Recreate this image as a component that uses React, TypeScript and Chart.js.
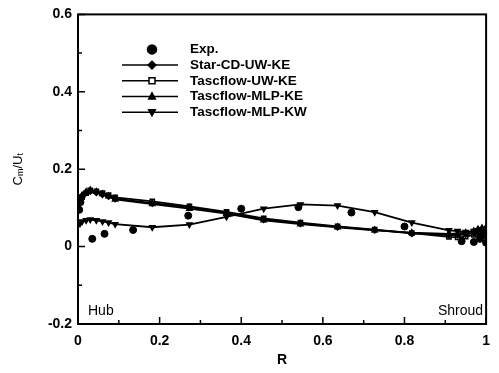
import React, { useEffect, useRef } from 'react';
import { Chart, registerables } from 'chart.js';
Chart.register(...registerables);

const seriesLabels = ['Exp.', 'Star-CD-UW-KE', 'Tascflow-UW-KE', 'Tascflow-MLP-KE', 'Tascflow-MLP-KW'];

const rCfd = [0, 0.005, 0.01, 0.02, 0.03, 0.045, 0.06, 0.075, 0.091, 0.182, 0.273, 0.364, 0.455, 0.545, 0.636, 0.727, 0.818, 0.909, 0.93, 0.95, 0.97, 0.98, 0.99, 1.0];
const starCdUwKe = [0.1, 0.12, 0.13, 0.14, 0.143, 0.14, 0.135, 0.13, 0.124, 0.112, 0.102, 0.087, 0.07, 0.06, 0.051, 0.043, 0.034, 0.03, 0.03, 0.032, 0.035, 0.038, 0.04, 0.035];
const tascUwKe = [0.095, 0.115, 0.128, 0.138, 0.145, 0.143, 0.138, 0.133, 0.127, 0.117, 0.104, 0.09, 0.073, 0.062, 0.052, 0.044, 0.035, 0.025, 0.024, 0.026, 0.03, 0.033, 0.036, 0.03];
const tascMlpKe = [0.11, 0.125, 0.133, 0.142, 0.146, 0.142, 0.136, 0.13, 0.122, 0.11, 0.098, 0.085, 0.068, 0.058, 0.05, 0.042, 0.036, 0.033, 0.034, 0.036, 0.04, 0.045, 0.048, 0.05];
const tascMlpKw = [0.055, 0.06, 0.065, 0.068, 0.07, 0.068, 0.065, 0.062, 0.058, 0.05, 0.057, 0.077, 0.098, 0.109, 0.106, 0.089, 0.062, 0.042, 0.04, 0.038, 0.04, 0.042, 0.045, 0.04];

const expR = [0.003, 0.006, 0.035, 0.065, 0.135, 0.27, 0.4, 0.54, 0.67, 0.8, 0.94, 0.97, 0.985, 0.995, 1.0];
const expC = [0.095, 0.115, 0.02, 0.033, 0.043, 0.08, 0.098, 0.102, 0.088, 0.052, 0.014, 0.012, 0.02, 0.03, 0.01];

const xTicks = [0, 0.2, 0.4, 0.6, 0.8, 1];
const yTicks = [-0.2, 0, 0.2, 0.4, 0.6];
const xMinor = [0.1, 0.3, 0.5, 0.7, 0.9];
const yMinor = [-0.1, 0.1, 0.3, 0.5];

const FONT = 'Arial, "Liberation Sans", Helvetica, sans-serif';

function pts(xs: number[], ys: number[]) {
  return xs.map((x, i) => ({ x, y: ys[i] }));
}

function drawMarker(ctx: CanvasRenderingContext2D, style: string, x: number, y: number, r: number, fill: string, rot: number) {
  ctx.save();
  ctx.translate(x, y);
  ctx.rotate((rot * Math.PI) / 180);
  ctx.beginPath();
  if (style === 'circle') {
    ctx.arc(0, 0, r, 0, Math.PI * 2);
  } else if (style === 'rect') {
    ctx.rect(-r, -r, 2 * r, 2 * r);
  } else if (style === 'rectRot') {
    ctx.moveTo(0, -r * 1.3);
    ctx.lineTo(r * 1.3, 0);
    ctx.lineTo(0, r * 1.3);
    ctx.lineTo(-r * 1.3, 0);
    ctx.closePath();
  } else if (style === 'triangle') {
    ctx.moveTo(0, -r * 1.2);
    ctx.lineTo(r * 1.1, r * 0.8);
    ctx.lineTo(-r * 1.1, r * 0.8);
    ctx.closePath();
  }
  ctx.fillStyle = fill;
  ctx.fill();
  ctx.lineWidth = 1.5;
  ctx.strokeStyle = '#000';
  ctx.stroke();
  ctx.restore();
}

const framePlugin = {
  id: 'framePlugin',
  afterDraw(chart: any) {
    const { ctx, chartArea: a, scales } = chart;
    const xs = scales.x;
    const ys = scales.y;
    ctx.save();
    ctx.strokeStyle = '#000';
    ctx.lineWidth = 2;
    ctx.strokeRect(a.left, a.top, a.right - a.left, a.bottom - a.top);
    ctx.lineWidth = 1.5;
    ctx.beginPath();
    xTicks.forEach((v) => {
      const px = xs.getPixelForValue(v);
      ctx.moveTo(px, a.bottom);
      ctx.lineTo(px, a.bottom - 7);
    });
    xMinor.forEach((v) => {
      const px = xs.getPixelForValue(v);
      ctx.moveTo(px, a.bottom);
      ctx.lineTo(px, a.bottom - 4);
    });
    yTicks.forEach((v) => {
      const py = ys.getPixelForValue(v);
      ctx.moveTo(a.left, py);
      ctx.lineTo(a.left + 7, py);
    });
    yMinor.forEach((v) => {
      const py = ys.getPixelForValue(v);
      ctx.moveTo(a.left, py);
      ctx.lineTo(a.left + 4, py);
    });
    ctx.stroke();

    ctx.fillStyle = '#000';
    ctx.font = 'bold 14px ' + FONT;
    ctx.textAlign = 'center';
    ctx.textBaseline = 'middle';
    ctx.fillText('R', (a.left + a.right) / 2, 360);

    ctx.save();
    ctx.translate(18, (a.top + a.bottom) / 2);
    ctx.rotate(-Math.PI / 2);
    const big = '13px ' + FONT;
    const small = '9px ' + FONT;
    const parts: [string, string, number][] = [['C', big, 0], ['m', small, 3], ['/U', big, 0], ['t', small, 3]];
    let total = 0;
    parts.forEach(([t, f]) => { ctx.font = f; total += ctx.measureText(t).width; });
    let cx = -total / 2;
    ctx.textAlign = 'left';
    parts.forEach(([t, f, dy]) => {
      ctx.font = f;
      ctx.fillText(t, cx, dy);
      cx += ctx.measureText(t).width;
    });
    ctx.restore();

    ctx.font = '14px ' + FONT;
    ctx.textBaseline = 'alphabetic';
    ctx.textAlign = 'left';
    ctx.fillText('Hub', a.left + 10, a.bottom - 9);
    ctx.textAlign = 'right';
    ctx.fillText('Shroud', a.right - 3, a.bottom - 9);

    const ds = chart.data.datasets;
    ds.forEach((d: any, i: number) => {
      const y = a.top + 35 + i * 15.7;
      const lx0 = a.left + 44;
      const lx1 = a.left + 100;
      const mx = a.left + 74;
      if (d.showLine !== false) {
        ctx.beginPath();
        ctx.lineWidth = 1.5;
        ctx.moveTo(lx0, y);
        ctx.lineTo(lx1, y);
        ctx.stroke();
      }
      drawMarker(ctx, d.pointStyle, mx, y, d.showLine === false ? 4.5 : 3, d.pointBackgroundColor, d.pointRotation || 0);
      ctx.fillStyle = '#000';
      ctx.font = 'bold 13.5px ' + FONT;
      ctx.textAlign = 'left';
      ctx.textBaseline = 'middle';
      ctx.fillText(d.label, a.left + 112, y);
    });
    ctx.restore();
  },
};

export default function App() {
  const ref = useRef<HTMLCanvasElement>(null);
  useEffect(() => {
    document.body.style.margin = '0';
    const lineDs = (label: string, ys: number[], style: string, fill: string, rot = 0) => ({
      label,
      data: pts(rCfd, ys),
      borderColor: '#000',
      borderWidth: 1.8,
      pointStyle: style,
      pointRadius: 3,
      pointRotation: rot,
      pointBackgroundColor: fill,
      pointBorderColor: '#000',
      pointBorderWidth: 1.5,
      showLine: true,
      tension: 0,
    });
    const chart = new Chart(ref.current!, {
      type: 'scatter',
      data: {
        datasets: [
          {
            label: seriesLabels[0],
            data: pts(expR, expC),
            pointStyle: 'circle',
            pointRadius: 3.5,
            pointBackgroundColor: '#000',
            pointBorderColor: '#000',
            showLine: false,
          } as any,
          lineDs(seriesLabels[1], starCdUwKe, 'rectRot', '#000'),
          lineDs(seriesLabels[2], tascUwKe, 'rect', '#fff'),
          lineDs(seriesLabels[3], tascMlpKe, 'triangle', '#000'),
          lineDs(seriesLabels[4], tascMlpKw, 'triangle', '#000', 180),
        ],
      },
      options: {
        animation: false,
        responsive: false,
        layout: { padding: { top: 10, right: 8, left: 0, bottom: 0 } },
        plugins: { legend: { display: false }, tooltip: { enabled: false } },
        scales: {
          x: {
            type: 'linear',
            min: 0,
            max: 1,
            afterBuildTicks: (s: any) => { s.ticks = xTicks.map((v) => ({ value: v })); },
            afterFit: (s: any) => { s.height = 49; },
            grid: { display: false, drawTicks: false },
            border: { display: false },
            ticks: {
              padding: 9,
              color: '#000',
              font: { family: FONT, size: 14, weight: 'bold' },
              callback: (v: any) => String(Number(Number(v).toFixed(1))),
              maxRotation: 0,
            },
          },
          y: {
            type: 'linear',
            min: -0.2,
            max: 0.6,
            afterBuildTicks: (s: any) => { s.ticks = yTicks.map((v) => ({ value: v })); },
            afterFit: (s: any) => { s.width = 78; },
            grid: { display: false, drawTicks: false },
            border: { display: false },
            ticks: {
              padding: 6,
              color: '#000',
              font: { family: FONT, size: 14, weight: 'bold' },
              callback: (v: any) => String(Number(Number(v).toFixed(1))),
            },
          },
        },
      },
      plugins: [framePlugin],
    });
    return () => chart.destroy();
  }, []);
  return (
    <div style={{ width: 499, height: 373 }}>
      <canvas ref={ref} width={499} height={373} style={{ display: 'block' }} />
    </div>
  );
}
